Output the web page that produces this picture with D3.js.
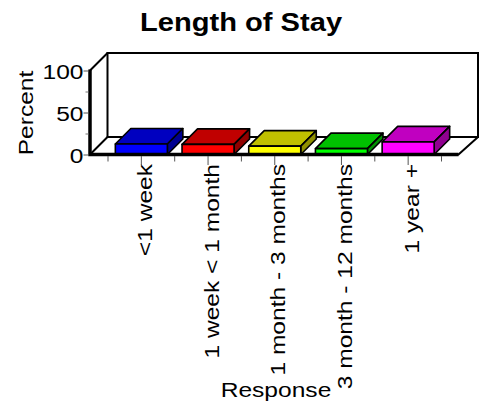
<!DOCTYPE html>
<html>
<head>
<meta charset="utf-8">
<script src="https://cdn.jsdelivr.net/npm/d3@7"></script>
<style>
  body { margin: 0; background: #fff; }
  text { font-family: "Liberation Sans", Arial, sans-serif; }
</style>
</head>
<body>
<svg id="chart" width="485" height="404"></svg>
<script>
// data
const categories = ["<1 week", "1 week < 1 month", "1 month - 3 months", "3 month - 12 months", "1 year +"]
const percents = [12.5, 12, 10, 7, 15]
const frontColors = ["#0000ff", "#ff0000", "#ffff00", "#00ff00", "#ff00ff"]
const topColors = ["#0000c0", "#c00000", "#c0c000", "#00c000", "#c000c0"]
const sideColors = ["#000090", "#900000", "#909000", "#009000", "#900090"]
const yTicks = [0, 50, 100]
const yMinorTicks = [25, 75]

let svg = d3.select("#chart")

let plotLeft = 90, plotRight = 458.5
let wallDepth = 17.5, barDepth = 15.5
// the original font is drawn a bit wider than Liberation Sans
let stretch = 1.17

let x = d3.scaleBand()
    .domain(categories)
    .range([plotLeft + 18, plotRight - 17])
    .paddingInner(0.22)
    .paddingOuter(0.11)

let y = d3.scaleLinear()
    .domain([0, 100])
    .range([154.5, 70.5])

let y0 = y(0), yTop = y(100)

// title
svg.append("text")
    .attr("transform", "translate(241,31) scale(1.12,1)")
    .attr("text-anchor", "middle")
    .attr("font-size", 26)
    .attr("font-weight", "bold")
    .text("Length of Stay")

// back wall
svg.append("rect")
    .attr("x", plotLeft + wallDepth)
    .attr("y", yTop - wallDepth)
    .attr("width", plotRight - plotLeft + 2)
    .attr("height", y0 - yTop)
    .attr("fill", "#fff")
    .attr("stroke", "#000")
    .attr("stroke-width", 2)

// left wall top edge
svg.append("path")
    .attr("d", `M${plotLeft},${yTop} L${plotLeft + wallDepth},${yTop - wallDepth}`)
    .attr("stroke", "#000")
    .attr("stroke-width", 2)

// floor
svg.append("path")
    .attr("d", `M${plotLeft},${y0} L${plotRight},${y0} L${plotRight + 2 + wallDepth},${y0 - wallDepth} L${plotLeft + wallDepth},${y0 - wallDepth} Z`)
    .attr("fill", "#fff")
    .attr("stroke", "#000")
    .attr("stroke-width", 2)
    .attr("stroke-linejoin", "round")

// bars
let bars = svg.append("g")
    .selectAll("g")
    .data(categories)
    .enter()
    .append("g")
    .attr("stroke", "#000")
    .attr("stroke-width", 1.6)
    .attr("stroke-linejoin", "round")

bars.append("path")
    .attr("fill", (d, i) => topColors[i])
    .attr("d", (d, i) => {
        let x0 = x(d), x1 = x(d) + x.bandwidth(), yt = y(percents[i])
        return `M${x0},${yt} L${x0 + barDepth},${yt - barDepth} L${x1 + barDepth},${yt - barDepth} L${x1},${yt} Z`
    })
bars.append("path")
    .attr("fill", (d, i) => sideColors[i])
    .attr("d", (d, i) => {
        let x1 = x(d) + x.bandwidth(), yt = y(percents[i])
        return `M${x1},${yt} L${x1 + barDepth},${yt - barDepth} L${x1 + barDepth},${y0 - barDepth} L${x1},${y0} Z`
    })
bars.append("rect")
    .attr("fill", (d, i) => frontColors[i])
    .attr("x", d => x(d))
    .attr("y", (d, i) => y(percents[i]))
    .attr("width", x.bandwidth())
    .attr("height", (d, i) => y0 - y(percents[i]))

// thick front edges
svg.append("path")
    .attr("d", `M${plotLeft},${yTop - 1} L${plotLeft},${y0} L${plotRight},${y0}`)
    .attr("fill", "none")
    .attr("stroke", "#000")
    .attr("stroke-width", 3.5)

// y axis ticks
let yAxis = svg.append("g")
    .attr("transform", `translate(${plotLeft - 1.5},0)`)
    .call(d3.axisLeft(y).tickValues(yTicks).tickSize(5))
yAxis.select(".domain").remove()
yAxis.selectAll("line").attr("stroke", "#555")
yAxis.selectAll("text")
    .attr("x", 0)
    .attr("transform", `translate(-5,0) scale(${stretch},1)`)
    .attr("font-size", 21)
    .attr("fill", "#000")
    .attr("dy", "0.36em")
    .attr("font-family", "Liberation Sans, Arial, sans-serif")

let yMinor = svg.append("g")
    .attr("transform", `translate(${plotLeft - 1.5},0)`)
    .call(d3.axisLeft(y).tickValues(yMinorTicks).tickSize(3).tickFormat(""))
yMinor.select(".domain").remove()
yMinor.selectAll("line").attr("stroke", "#777")

// x axis ticks
let xAxis = svg.append("g")
    .attr("transform", `translate(0,${y0 + 1.5})`)
    .call(d3.axisBottom(x).tickSize(9))
xAxis.select(".domain").remove()
xAxis.selectAll("line").attr("stroke", "#555")
xAxis.selectAll("text")
    .attr("font-size", 21)
    .attr("fill", "#000")
    .attr("font-family", "Liberation Sans, Arial, sans-serif")
    .attr("text-anchor", "end")
    .attr("x", 0)
    .attr("y", 0)
    .attr("dy", "0.5em")
    .attr("transform", `rotate(-90) translate(-8,0) scale(${stretch},1)`)

// minor ticks at band edges
let edges = categories.map(d => x(d) - x.step() * x.paddingInner() / 2)
edges.push(x(categories[categories.length - 1]) + x.bandwidth() + x.step() * x.paddingInner() / 2)
svg.append("g")
    .selectAll("line")
    .data(edges)
    .enter()
    .append("line")
    .attr("x1", d => d)
    .attr("x2", d => d)
    .attr("y1", y0 + 1.5)
    .attr("y2", y0 + 7)
    .attr("stroke", "#555")

// axis titles
svg.append("text")
    .attr("transform", `translate(33,113) rotate(-90) scale(${stretch},1)`)
    .attr("text-anchor", "middle")
    .attr("font-size", 21)
    .text("Percent")

svg.append("text")
    .attr("transform", `translate(276,397) scale(${stretch},1)`)
    .attr("text-anchor", "middle")
    .attr("font-size", 21)
    .text("Response")
</script>
</body>
</html>
